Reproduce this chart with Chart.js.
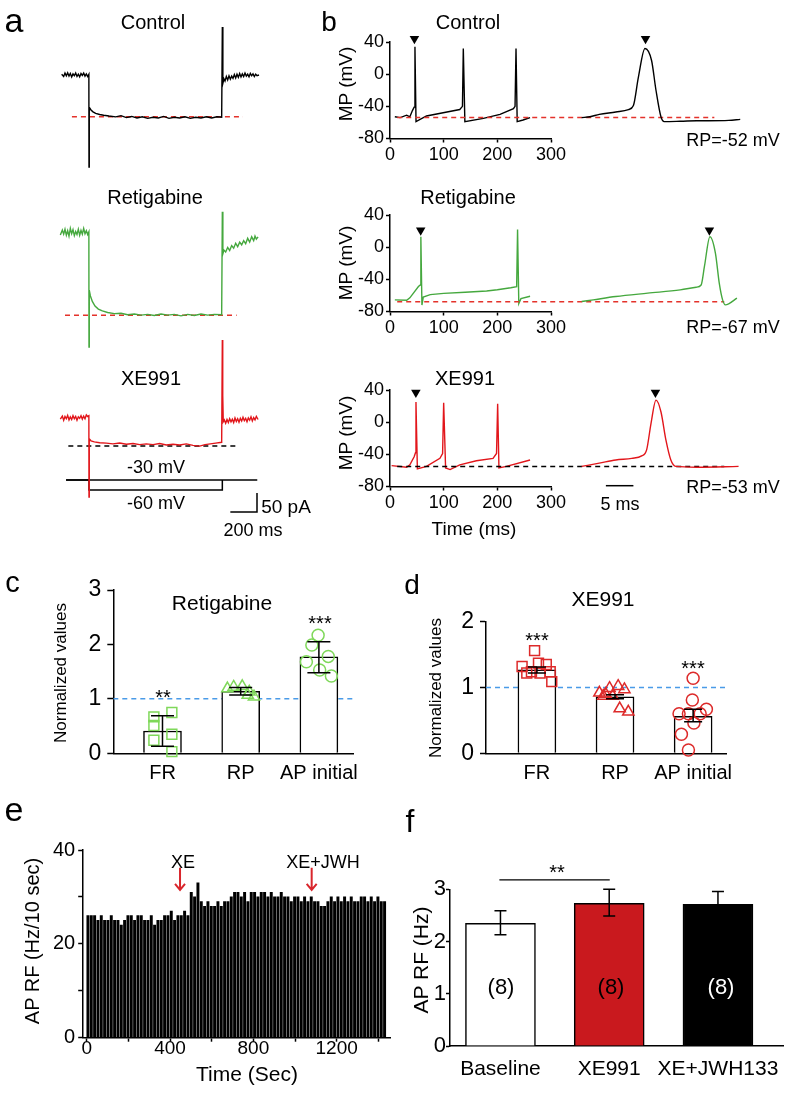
<!DOCTYPE html>
<html>
<head>
<meta charset="utf-8">
<script src="https://cdn.jsdelivr.net/npm/chart.js@4.4.0/dist/chart.umd.min.js"></script>
<style>
body{margin:0;background:#fff;width:790px;height:1097px;position:relative;overflow:hidden;font-family:"Liberation Sans",Arial,sans-serif;color:#000}
canvas{position:absolute}
.t{position:absolute;line-height:1;white-space:nowrap}
</style>
</head>
<body>
<script>
// ---------- panel a: holding current traces [time ms, current pA] ----------
var ctrlI = [[-205,2],[-190,-4],[-180,5],[-170,-2],[-160,6],[-150,-3],[-140,4],[-130,-5],[-120,3],[-110,-2],[-100,5],[-90,-4],[-80,2],[-70,-5],[-60,4],[-50,-1],[-40,5],[-30,-3],[-20,3],[-10,-4],[-1,2],
  [0,-242],[2,-85],[15,-92],[30,-97],[50,-101],[80,-104],[110,-106],[150,-108],[200,-110],[240,-107],[280,-112],[320,-109],[360,-113],[400,-110],[440,-114],[480,-111],[520,-113],[560,-109],[600,-114],[640,-111],[680,-113],[720,-110],[760,-114],[800,-111],[840,-113],[880,-110],[920,-113],[960,-110],[995,-111],
  [1000,126],[1004,-22],[1012,-10],[1020,-16],[1030,-4],[1040,-13],[1050,-2],[1060,-11],[1070,-3],[1080,-9],[1090,1],[1100,-8],[1110,2],[1120,-6],[1130,4],[1140,-5],[1150,3],[1160,-4],[1170,5],[1180,-3],[1190,2],[1200,-5],[1210,4],[1220,-2],[1230,3],[1240,-4],[1250,2],[1260,-2],[1275,0]];
var retiI = [[-215,-5],[-200,8],[-190,-3],[-180,10],[-170,-6],[-160,6],[-150,-8],[-140,12],[-130,-2],[-120,9],[-110,-7],[-100,4],[-90,-4],[-80,10],[-70,-6],[-60,7],[-50,-3],[-40,12],[-30,-2],[-20,6],[-10,-4],[-1,3],
  [0,-300],[2,-150],[10,-165],[25,-180],[45,-192],[70,-200],[100,-205],[140,-209],[190,-212],[240,-211],[290,-215],[340,-213],[390,-216],[440,-214],[490,-217],[540,-213],[590,-216],[640,-214],[690,-218],[740,-214],[790,-217],[840,-213],[890,-216],[940,-214],[995,-215],
  [1000,56],[1004,-55],[1012,-45],[1025,-50],[1040,-38],[1055,-46],[1070,-33],[1085,-40],[1100,-27],[1115,-36],[1130,-24],[1145,-31],[1160,-20],[1175,-28],[1190,-14],[1205,-24],[1220,-10],[1235,-20],[1245,-8],[1255,-16],[1268,-10]];
var xeI = [[-215,-3],[-200,5],[-190,-6],[-180,4],[-170,-2],[-160,7],[-150,-5],[-140,3],[-130,-4],[-120,6],[-110,-2],[-100,4],[-90,-6],[-80,3],[-70,-1],[-60,6],[-50,-3],[-40,5],[-30,-2],[-20,8],[-10,4],[-1,6],
  [0,-208],[2,-55],[15,-60],[40,-63],[80,-65],[130,-66],[180,-68],[230,-66],[280,-69],[330,-67],[380,-70],[430,-68],[480,-70],[530,-67],[580,-71],[630,-69],[680,-71],[730,-68],[780,-72],[830,-74],[870,-70],[910,-68],[950,-66],[995,-64],
  [1000,205],[1003,60],[1007,-10],[1015,-5],[1025,-14],[1035,-4],[1045,-12],[1055,-2],[1065,-10],[1075,-3],[1085,-12],[1095,0],[1105,-9],[1115,-2],[1125,-11],[1135,-1],[1145,-8],[1155,2],[1165,-7],[1175,-1],[1185,-10],[1195,0],[1205,-6],[1215,3],[1225,-8],[1235,1],[1245,-5],[1255,4],[1268,-4]];
var ctrlLevel = -110, retiLevel = -216, xeLevel = -74;
var stepV = [[-172,-30],[0,-30],[0,-60],[1000,-60],[1000,-30]];
var holdV = [[-172,-30],[1262,-30]];

// ---------- panel b: membrane potential [time ms, mV] ----------
var ctrlMP = [[9,-53],[19,-54],[31,-51],[37,-53],[42,-45],[45,-41],[46.5,34],[48.5,-59],[68,-52],[99,-48],[130,-44],[135,-40],[136.6,32],[139.5,-59],[174,-55],[205,-50],[230,-43],[233,-40],[234.8,32],[237,-59],[248,-57],[261,-54]];
var retiMP = [[9,-65.5],[31,-66],[37,-63],[53,-49],[56.5,-47],[57.5,13],[59.5,-72],[62,-62],[75,-59],[100,-57.5],[140,-56],[180,-54.5],[200,-53],[225,-50.5],[236,-49],[237.7,22],[240,-70],[244,-64],[261,-61]];
var xeMP = [[3,-54],[31,-56],[37,-53],[45,-43],[47.5,-38],[48.4,25],[51,-58],[68,-55],[93,-45],[98,-39],[100,24],[103.6,-57],[112,-59],[130,-53],[161,-48],[192,-45],[198.5,-39],[200.6,23],[203,-57],[217,-55],[261,-47]];
var ctrlAP = [[0,-54],[1.5,-53],[3.2,-50],[6.2,-47],[8.5,-44],[9.4,-39],[10.3,-4],[11.5,32],[12.7,17],[13.5,-20],[14.4,-53],[15,-59],[17.9,-58.6],[20.9,-58],[26.7,-57.4],[28.8,-56.2]];
var retiAP = [[0,-67.6],[2.1,-65.5],[6.2,-61.4],[12,-57.2],[17.9,-53.1],[20.8,-49.8],[21.7,-47],[22.3,-24],[23.3,13],[24.3,-7.6],[25,-45],[25.6,-65.5],[26.1,-71.7],[26.7,-70.5],[28.2,-63.4]];
var xeAP = [[0,-55],[3.2,-51],[6.2,-47],[9.1,-45],[10.9,-42],[11.8,-34.5],[12.6,-1.4],[13.5,27.4],[14.4,13],[15.3,-22],[16.2,-47],[17.1,-55],[20.9,-56],[28.5,-55]];
var rpVals = [-54, -68, -55];
var rpLabels = ['RP=-52 mV', 'RP=-67 mV', 'RP=-53 mV'];

// ---------- panel c / d: normalized values ----------
var ndCats = ['FR', 'RP', 'AP initial'];
var cMeans = [0.41, 1.14, 1.77];
var cHi = [0.69, 1.21, 2.05];
var cLo = [0.13, 1.07, 1.48];
var cFR = [[0.89,0.67],[1.12,0.75],[0.89,0.51],[1.12,0.35],[0.89,0.24],[1.12,0.03]];
var cRP = [[1.83,1.19],[1.91,1.22],[2.02,1.23],[2.11,1.13],[2.17,1.04],[2.09,1.07]];
var cAP = [[2.99,2.17],[2.91,1.99],[3.12,1.78],[2.84,1.68],[3.01,1.53],[3.16,1.42]];
var dMeans = [1.27, 0.86, 0.56];
var dHi = [1.31, 0.89, 0.67];
var dLo = [1.22, 0.83, 0.48];
var dFR = [[0.97,1.56],[0.81,1.32],[0.87,1.22],[1.02,1.37],[1.12,1.35],[1.04,1.22],[1.17,1.24],[1.19,1.09],[0.93,1.24]];
var dRP = [[1.80,0.92],[1.93,0.99],[2.04,1.02],[2.12,0.97],[1.85,0.87],[1.97,0.87],[2.06,0.68],[2.17,0.63],[1.88,0.90]];
var dAP = [[3.0,1.14],[2.99,0.81],[3.17,0.67],[2.82,0.6],[2.94,0.6],[3.09,0.6],[2.85,0.29],[3.01,0.46],[2.94,0.05]];

// ---------- panel e: AP rate histogram ----------
var eTimes = [6,22,38,54,70,86,102,118,134,150,166,182,198,214,230,246,262,278,294,310,326,342,358,374,390,406,422,438,454,470,
  486,502,518,534,550,566,582,598,614,630,646,662,678,694,710,726,742,758,774,790,806,822,838,854,870,886,902,918,934,950,
  966,982,998,1014,1030,1046,1062,1078,1094,1110,1126,1142,1158,1174,1190,1206,1222,1238,1254,1270,1286,1302,1318,1334,1350,1366,1382,1398,1414,1430];
var eRate = [26,26,26,25,26,25,25,26,25,25,24,25,26,26,25,26,26,25,25,26,24,25,25,26,26,27,25,26,26,27,
  26,31,30,33,29,28,29,28,28,29,28,29,29,30,31,31,30,31,29,31,31,30,31,31,30,31,30,30,31,30,
  30,29,30,30,29,30,29,30,29,29,28,28,29,30,29,30,29,30,29,30,29,29,30,30,29,30,29,30,29,29];
var eEvents = [{label:'XE', t:448}, {label:'XE+JWH', t:1080}];

// ---------- panel f ----------
var fCats = ['Baseline', 'XE991', 'XE+JWH133'];
var fMeans = [2.35, 2.73, 2.71];
var fHi = [2.59, 3.0, 2.96];
var fLo = [2.13, 2.49, 2.46];
var fN = ['(8)', '(8)', '(8)'];

Chart.defaults.font.family = '"Liberation Sans", Arial, sans-serif';
Chart.defaults.color = '#000';
Chart.defaults.plugins.legend.display = false;
Chart.defaults.plugins.tooltip.enabled = false;

function xy(a) { return a.map(function(p) { return {x: p[0], y: p[1]}; }); }
function mkCanvas(left, top, w, h) {
  var c = document.createElement('canvas');
  c.width = w; c.height = h;
  c.style.left = left + 'px'; c.style.top = top + 'px';
  c.style.width = w + 'px'; c.style.height = h + 'px';
  document.body.appendChild(c);
  return c;
}
function txt(s, cx, cy, size, o) {
  o = o || {};
  var d = document.createElement('div');
  d.className = 't'; d.textContent = s;
  d.style.fontSize = size + 'px';
  d.style.left = cx + 'px'; d.style.top = cy + 'px';
  d.style.transform = 'translate(-50%,-50%)' + (o.rot ? ' rotate(-90deg)' : '');
  if (o.color) d.style.color = o.color;
  document.body.appendChild(d);
}
function stars(s, cx, cy) { txt(s, cx, cy + 4.6, 20); }
function line(data, color, yId, extra) {
  var d = {type: 'line', data: xy(data), borderColor: color, borderWidth: 1.4, pointRadius: 0, tension: 0, fill: false, yAxisID: yId || 'y'};
  for (var k in extra) d[k] = extra[k];
  return d;
}
function base(opts) {
  opts.animation = false; opts.responsive = false; opts.devicePixelRatio = 1;
  return opts;
}
var tickGrid = {drawOnChartArea: false, tickLength: 4, tickColor: '#000', tickWidth: 1.5};
var axBorder = {color: '#000', width: 1.5};
function errBars(xs, hi, lo, cap) {
  return {id: 'err', afterDatasetsDraw: function(chart) {
    var ctx = chart.ctx, sx = chart.scales.x, sy = chart.scales.y;
    ctx.save(); ctx.strokeStyle = '#000'; ctx.lineWidth = 1.5;
    xs.forEach(function(v, i) {
      var px = sx.getPixelForValue(v), ph = sy.getPixelForValue(hi[i]), pl = sy.getPixelForValue(lo[i]);
      ctx.beginPath();
      ctx.moveTo(px, ph); ctx.lineTo(px, pl);
      ctx.moveTo(px - cap / 2, ph); ctx.lineTo(px + cap / 2, ph);
      ctx.moveTo(px - cap / 2, pl); ctx.lineTo(px + cap / 2, pl);
      ctx.stroke();
    });
    ctx.restore();
  }};
}

// ===== panel a =====
new Chart(mkCanvas(0, 0, 300, 540), {
  type: 'line',
  data: {datasets: [
    line(ctrlI, '#000', 'yC'),
    line([[-128, ctrlLevel], [1155, ctrlLevel]], '#e4322b', 'yC', {borderDash: [5, 4], borderWidth: 1.5}),
    line(retiI, '#45a83e', 'yR'),
    line([[-180, retiLevel], [1107, retiLevel]], '#e4322b', 'yR', {borderDash: [5, 4], borderWidth: 1.5}),
    line(xeI, '#e2161b', 'yX'),
    line([[-155, xeLevel], [1120, xeLevel]], '#000', 'yX', {borderDash: [5, 4], borderWidth: 1.5}),
    line([[1060, -247], [1260, -247], [1260, -197]], '#000', 'yX', {borderWidth: 1.5}),
    line(holdV, '#000', 'yS', {borderWidth: 1.5}),
    line(stepV, '#000', 'yS', {borderWidth: 1.5})
  ]},
  options: base({
    layout: {padding: 0},
    scales: {
      x: {type: 'linear', display: false, min: -667.5, max: 1582.5},
      yC: {display: false, min: -1223, max: 197.25},
      yR: {display: false, min: -807.4, max: 612.8},
      yX: {display: false, min: -320.9, max: 1099.3},
      yS: {display: false, min: -210, max: 1410}
    }
  })
});

// ===== panel b =====
var mpRows = [
  {top: 0, mp: ctrlMP, ap: ctrlAP, color: '#000', dash: '#e4322b', arrow: [45.5, 44], apArrow: [11.6, 44], dashEnd: 24.1},
  {top: 173, mp: retiMP, ap: retiAP, color: '#45a83e', dash: '#e4322b', arrow: [57.2, 21], apArrow: [23.2, 21], dashEnd: 25.9},
  {top: 348, mp: xeMP, ap: xeAP, color: '#e2161b', dash: '#000', arrow: [48.2, 37], apArrow: [13.4, 37], dashEnd: 25.9}
];
mpRows.forEach(function(r, i) {
  new Chart(mkCanvas(300, r.top, 290, 170), {
    type: 'line',
    data: {datasets: [
      line(r.mp, r.color),
      {type: 'scatter', data: xy([r.arrow]), pointStyle: 'triangle', pointRotation: 180, rotation: 180, pointRadius: 5.5, backgroundColor: '#000', borderColor: '#000', borderWidth: 0, clip: false}
    ]},
    options: base({
      layout: {padding: {left: 0, right: 39, top: 42, bottom: 1.5}},
      scales: {
        x: {type: 'linear', min: 0, max: 300, afterFit: function(s) { s.height = 30; },
          ticks: {stepSize: 100, font: {size: 18}, padding: 2, maxRotation: 0, includeBounds: false},
          grid: tickGrid, border: axBorder},
        y: {min: -80, max: 40, afterFit: function(s) { s.width = 90; },
          ticks: {stepSize: 40, font: {size: 18}, padding: 2},
          grid: tickGrid, border: axBorder}
      }
    })
  });
  var apSets = [
    line(r.ap, r.color, 'y', {cubicInterpolationMode: 'monotone'}),
    line([[-33.5, rpVals[i]], [r.dashEnd, rpVals[i]]], r.dash, 'y', {borderDash: [5, 4], borderWidth: 1.5}),
    {type: 'scatter', data: xy([r.apArrow]), pointStyle: 'triangle', pointRotation: 180, rotation: 180, pointRadius: 5.5, backgroundColor: '#000', borderColor: '#000', borderWidth: 0, clip: false}
  ];
  if (i === 2) apSets.push(line([[4.4, -79], [9.4, -79]], '#000', 'y', {borderWidth: 1.5, clip: false}));
  new Chart(mkCanvas(390, r.top, 380, 170), {
    type: 'line',
    data: {datasets: apSets},
    options: base({
      layout: {padding: {left: 0, right: 0, top: 42, bottom: 31.5}},
      scales: {
        x: {type: 'linear', display: false, min: -33.81, max: 33.21},
        y: {display: false, min: -80, max: 40}
      }
    })
  });
});

// ===== panels c and d =====
function normChart(left, top, w, padTop, yW, padR, ymax, xmin, xmax, means, hi, lo, fr, rp, ap, color, cap) {
  var pt = {type: 'scatter', backgroundColor: 'rgba(0,0,0,0)', borderColor: color, borderWidth: 1.5, clip: false, order: 2};
  function sc(d, style, r) { var o = {}; for (var k in pt) o[k] = pt[k]; o.data = xy(d); o.pointStyle = style; o.pointRadius = r; return o; }
  new Chart(mkCanvas(left, top, w, 215), {
    type: 'bar',
    data: {datasets: [
      {type: 'bar', data: means.map(function(v, i) { return {x: i + 1, y: v}; }), backgroundColor: '#fff', borderColor: '#000', borderWidth: 1.5, barThickness: 38, order: 3},
      sc(fr, 'rect', 7), sc(rp, 'triangle', 6.5), sc(ap, 'circle', 6),
      line([[xmin, 1], [xmax, 1]], '#4a9be8', 'y', {borderDash: [5, 4], borderWidth: 1.5, order: 4})
    ]},
    options: base({
      layout: {padding: {left: 0, right: padR, top: padTop, bottom: 0}},
      scales: {
        x: {type: 'linear', min: xmin, max: xmax, offset: false, afterFit: function(s) { s.height = 31.7; },
          afterBuildTicks: function(s) { s.ticks = [{value: 1}, {value: 2}, {value: 3}]; },
          ticks: {font: {size: 20}, padding: 8, maxRotation: 0, callback: function(v) { return ndCats[Math.round(v) - 1]; }},
          grid: {display: false, drawTicks: false, offset: false}, border: axBorder},
        y: {min: 0, max: ymax, afterFit: function(s) { s.width = yW; },
          ticks: {stepSize: 1, font: {size: 23}, padding: 6},
          grid: {drawOnChartArea: false, tickLength: 6, tickColor: '#000', tickWidth: 1.5}, border: axBorder}
      }
    }),
    plugins: [errBars([1, 2, 3], hi, lo, cap)]
  });
}
normChart(0, 570, 400, 20, 113.3, 46.7, 3, 0.371, 3.44, cMeans, cHi, cLo, cFR, cRP, cAP, '#7fd85a', 23);
normChart(400, 570, 390, 51.7, 86, 63.3, 2, 0.348, 3.43, dMeans, dHi, dLo, dFR, dRP, dAP, '#dd2a2a', 18);

// ===== panel e =====
new Chart(mkCanvas(0, 820, 400, 277), {
  type: 'bar',
  data: {datasets: [
    {data: eTimes.map(function(t, i) { return {x: t, y: eRate[i]}; }), backgroundColor: '#000', barThickness: 2.3, borderWidth: 0}
  ]},
  options: base({
    layout: {padding: {left: 0, right: 10, top: 30, bottom: 0}},
    scales: {
      x: {type: 'linear', min: -19.2, max: 1456, offset: false, afterFit: function(s) { s.height = 59.3; },
        ticks: {stepSize: 200, includeBounds: false, font: {size: 19}, padding: -4, maxRotation: 0, autoSkip: false,
          callback: function(v) { return v % 400 === 0 ? v : ''; }},
        grid: {drawOnChartArea: false, tickLength: 4, tickColor: '#000', tickWidth: 1.5, offset: false}, border: axBorder},
      y: {min: 0, max: 40, afterFit: function(s) { s.width = 82.7; },
        ticks: {stepSize: 10, font: {size: 20}, padding: 3, callback: function(v) { return v % 20 === 0 ? v : ''; }},
        grid: {drawOnChartArea: false, tickLength: 4.5, tickColor: '#000', tickWidth: 1.5}, border: axBorder}
    }
  }),
  plugins: [{id: 'arrows', afterDatasetsDraw: function(chart) {
    var ctx = chart.ctx, sx = chart.scales.x, sy = chart.scales.y;
    ctx.save(); ctx.strokeStyle = '#d9262c'; ctx.lineWidth = 2;
    eEvents.forEach(function(ev) {
      var px = sx.getPixelForValue(ev.t), y1 = sy.getPixelForValue(36.2), y2 = sy.getPixelForValue(31.5);
      ctx.beginPath(); ctx.moveTo(px, y1); ctx.lineTo(px, y2);
      ctx.moveTo(px - 5, y2 - 6); ctx.lineTo(px, y2); ctx.lineTo(px + 5, y2 - 6); ctx.stroke();
    });
    ctx.restore();
  }}]
});

// ===== panel f =====
new Chart(mkCanvas(400, 850, 390, 247), {
  type: 'bar',
  data: {datasets: [
    {type: 'bar', data: fMeans.map(function(v, i) { return {x: i + 1, y: v}; }), backgroundColor: ['#fff', '#c9191e', '#000'], borderColor: '#000', borderWidth: 1.5, barThickness: 70, order: 2},
    line([[0.99, 3.18], [2.005, 3.18]], '#000', 'y', {borderWidth: 1.3, clip: false, order: 1})
  ]},
  options: base({
    layout: {padding: {left: 0, right: 3.3, top: 39.3, bottom: 0}},
    scales: {
      x: {type: 'linear', min: 0.536, max: 3.6, offset: false, afterFit: function(s) { s.height = 51; },
        afterBuildTicks: function(s) { s.ticks = [{value: 1}, {value: 2}, {value: 3}]; },
        ticks: {font: {size: 21}, padding: 11, maxRotation: 0, callback: function(v) { return fCats[Math.round(v) - 1]; }},
        grid: {display: false, drawTicks: false, offset: false}, border: axBorder},
      y: {min: 0, max: 3, afterFit: function(s) { s.width = 50; },
        ticks: {stepSize: 0.5, font: {size: 22}, padding: 0, callback: function(v) { return Number.isInteger(v) ? v : ''; }},
        grid: {drawOnChartArea: false, tickLength: 4, tickColor: '#000', tickWidth: 1.5}, border: axBorder}
    }
  }),
  plugins: [errBars([1, 2, 3], fHi, fLo, 12)]
});

// ===== text =====
txt('a', 14, 20, 34); txt('b', 329, 22, 28); txt('c', 12.5, 582, 29);
txt('d', 412, 585, 28); txt('e', 14, 809, 34); txt('f', 410, 821, 32);
txt('Control', 153, 22, 20); txt('Retigabine', 155, 197, 20); txt('XE991', 151, 378, 20);
txt('-30 mV', 156, 467, 18); txt('-60 mV', 156, 503, 18);
txt('50 pA', 286, 506, 19); txt('200 ms', 253, 530, 18);
txt('Control', 468, 22, 20); txt('Retigabine', 468, 197, 20); txt('XE991', 465, 378, 20);
[84, 263, 433].forEach(function(cy) { txt('MP (mV)', 345, cy, 19, {rot: true}); });
[140, 327, 487].forEach(function(cy, i) { txt(rpLabels[i], 733, cy, 18); });
txt('5 ms', 620, 504, 18); txt('Time (ms)', 474, 528, 19);
txt('Retigabine', 222, 602, 21); txt('Normalized values', 60, 673, 17, {rot: true});
stars('**', 163, 692); stars('***', 320, 618);
txt('XE991', 603, 598, 21); txt('Normalized values', 435, 688, 17, {rot: true});
stars('***', 537, 635); stars('***', 693, 663);
txt('AP RF (Hz/10 sec)', 32, 941, 20, {rot: true});
txt(eEvents[0].label, 183, 862, 18); txt(eEvents[1].label, 323, 862, 18);
txt('Time (Sec)', 247, 1073, 21);
txt('AP RF (Hz)', 420, 960, 21, {rot: true});
stars('**', 557, 867);
txt(fN[0], 501, 987, 22); txt(fN[1], 611, 987, 22); txt(fN[2], 721, 987, 22, {color: '#fff'});
</script>
</body>
</html>
